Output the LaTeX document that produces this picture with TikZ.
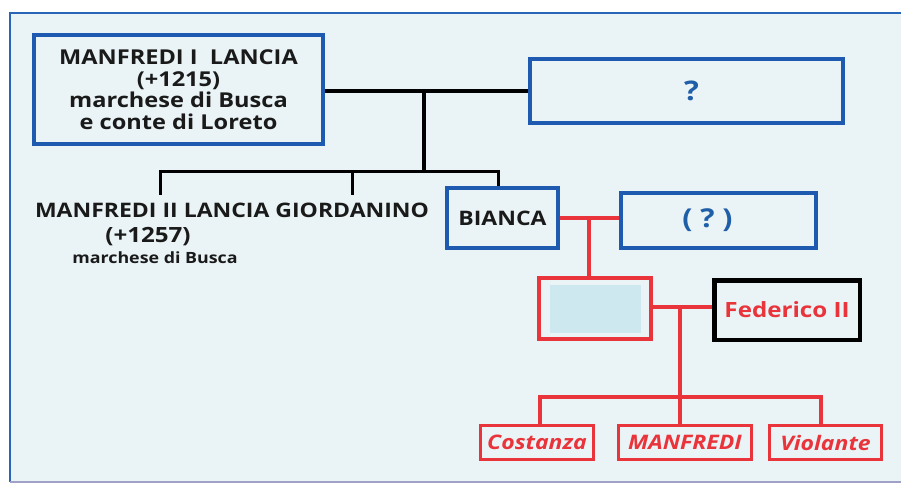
\documentclass[tikz,border=0pt]{standalone}
\usepackage{fontspec}
\setmainfont{Open Sans}[FakeStretch=1.15]
\definecolor{bgc}{HTML}{EAF4F6}
\definecolor{frameblue}{HTML}{2A66B8}
\definecolor{boxblue}{HTML}{1E5BB0}
\definecolor{qblue}{HTML}{1F5FA8}
\definecolor{redc}{HTML}{E8343A}
\definecolor{txt}{HTML}{1A1A1A}
\definecolor{inner}{HTML}{CDE8EF}
\definecolor{bottomc}{HTML}{A0A0C8}
\tikzset{
  bluebox/.style={draw=boxblue, line width=4pt, fill=bgc, inner sep=0pt, align=center, font=\bfseries\fontsize{20.5}{21.5}\selectfont, text=txt},
  redbox/.style={draw=redc, line width=4pt, fill=bgc, inner sep=0pt},
  blackbox/.style={draw=black, line width=4.5pt, fill=bgc, inner sep=0pt, font=\bfseries\fontsize{21}{22}\selectfont, text=redc},
  childbox/.style={draw=redc, line width=3pt, fill=bgc, inner sep=0pt, font=\bfseries\itshape\fontsize{20}{22}\selectfont, text=redc},
  blk/.style={draw=black, line width=3pt},
  blkthick/.style={draw=black, line width=4.5pt},
  redl/.style={draw=redc, line width=4pt},
  plain/.style={inner sep=0pt, text=txt, font=\bfseries\fontsize{20}{22}\selectfont},
}
\begin{document}
\begin{tikzpicture}[x=1pt,y=-1pt]
\useasboundingbox (0,0) rectangle (901,486);
\fill[white] (0,0) rectangle (901,486);
\fill[bgc] (10,13) rectangle (905,482);
\draw[frameblue, line width=2.5pt] (905,13) -- (10,13) -- (10,482);
\draw[bottomc, line width=2pt] (10,482) -- (905,482);

% nodes
\node[bluebox, minimum width=289pt, minimum height=109pt] (box1) at (178.5,89.5)
  {MANFREDI I\ \ LANCIA\\(+1215)\\marchese di Busca\\e conte di Loreto};
\node[bluebox, minimum width=313pt, minimum height=64pt, text=qblue, font=\bfseries\fontsize{27}{28}\selectfont] (q1) at (686.5,91) {\hspace*{10pt}?};
\node[bluebox, minimum width=111pt, minimum height=60pt, font=\bfseries\fontsize{20}{22}\selectfont] (bianca) at (502.5,218) {BIANCA};
\node[bluebox, minimum width=195pt, minimum height=55pt, text=qblue, font=\bfseries\fontsize{26}{28}\selectfont] (q2) at (718.5,220.5) {(\ ?\ )\hspace*{22pt}};
\node[redbox, minimum width=112pt, minimum height=61pt] (rbox) at (595,308.5) {};
\fill[inner] (550,285) rectangle (641,333);
\node[blackbox, minimum width=145.5pt, minimum height=59.5pt] (fed) at (787,310) {Federico II};
\node[childbox, minimum width=113pt, minimum height=34pt] (cost) at (537,442.5) {Costanza};
\node[childbox, minimum width=133pt, minimum height=34pt] (manf) at (685,442.5) {MANFREDI};
\node[childbox, minimum width=112pt, minimum height=34pt] (viol) at (825.5,442.5) {Violante};

\node[plain] (m2a) at (232,210) {MANFREDI II LANCIA GIORDANINO};
\node[plain, font=\bfseries\fontsize{21}{22}\selectfont] (m2b) at (148,237) {(+1257)};
\node[plain, font=\bfseries\fontsize{15.5}{17}\selectfont] (m2c) at (155,258) {marchese di Busca};

% black connectors
\coordinate (j1) at (424,91);
\coordinate (j2) at (424,172);
\coordinate (cl) at (160,172);
\coordinate (cm) at (352,172);
\coordinate (cr) at (498,172);
\coordinate (dl) at (160,195);
\coordinate (dm) at (352,195);
\draw[blkthick] (box1.east |- q1.west) -- (q1.west);
\draw[blkthick] (j1) -- (j2);
\draw[blk] (dl) -- (cl) -- (cr) -- (cr |- bianca.north);
\draw[blk] (cm) -- (dm);

% red connectors
\coordinate (r1) at (589,218);
\draw[redl] (bianca.east |- r1) -- (q2.west |- r1);
\draw[redl] (r1) -- (r1 |- rbox.north);
\coordinate (r2) at (680,307);
\coordinate (r3) at (680,397);
\coordinate (r4) at (540,397);
\coordinate (r5) at (821,397);
\draw[redl] (rbox.east |- r2) -- (fed.west |- r2);
\draw[redl] (r2) -- (r3) -- (r3 |- manf.north);
\draw[redl, line width=3.5pt] (r4 |- cost.north) -- (r4) -- (r5) -- (r5 |- viol.north);
\end{tikzpicture}
\end{document}
